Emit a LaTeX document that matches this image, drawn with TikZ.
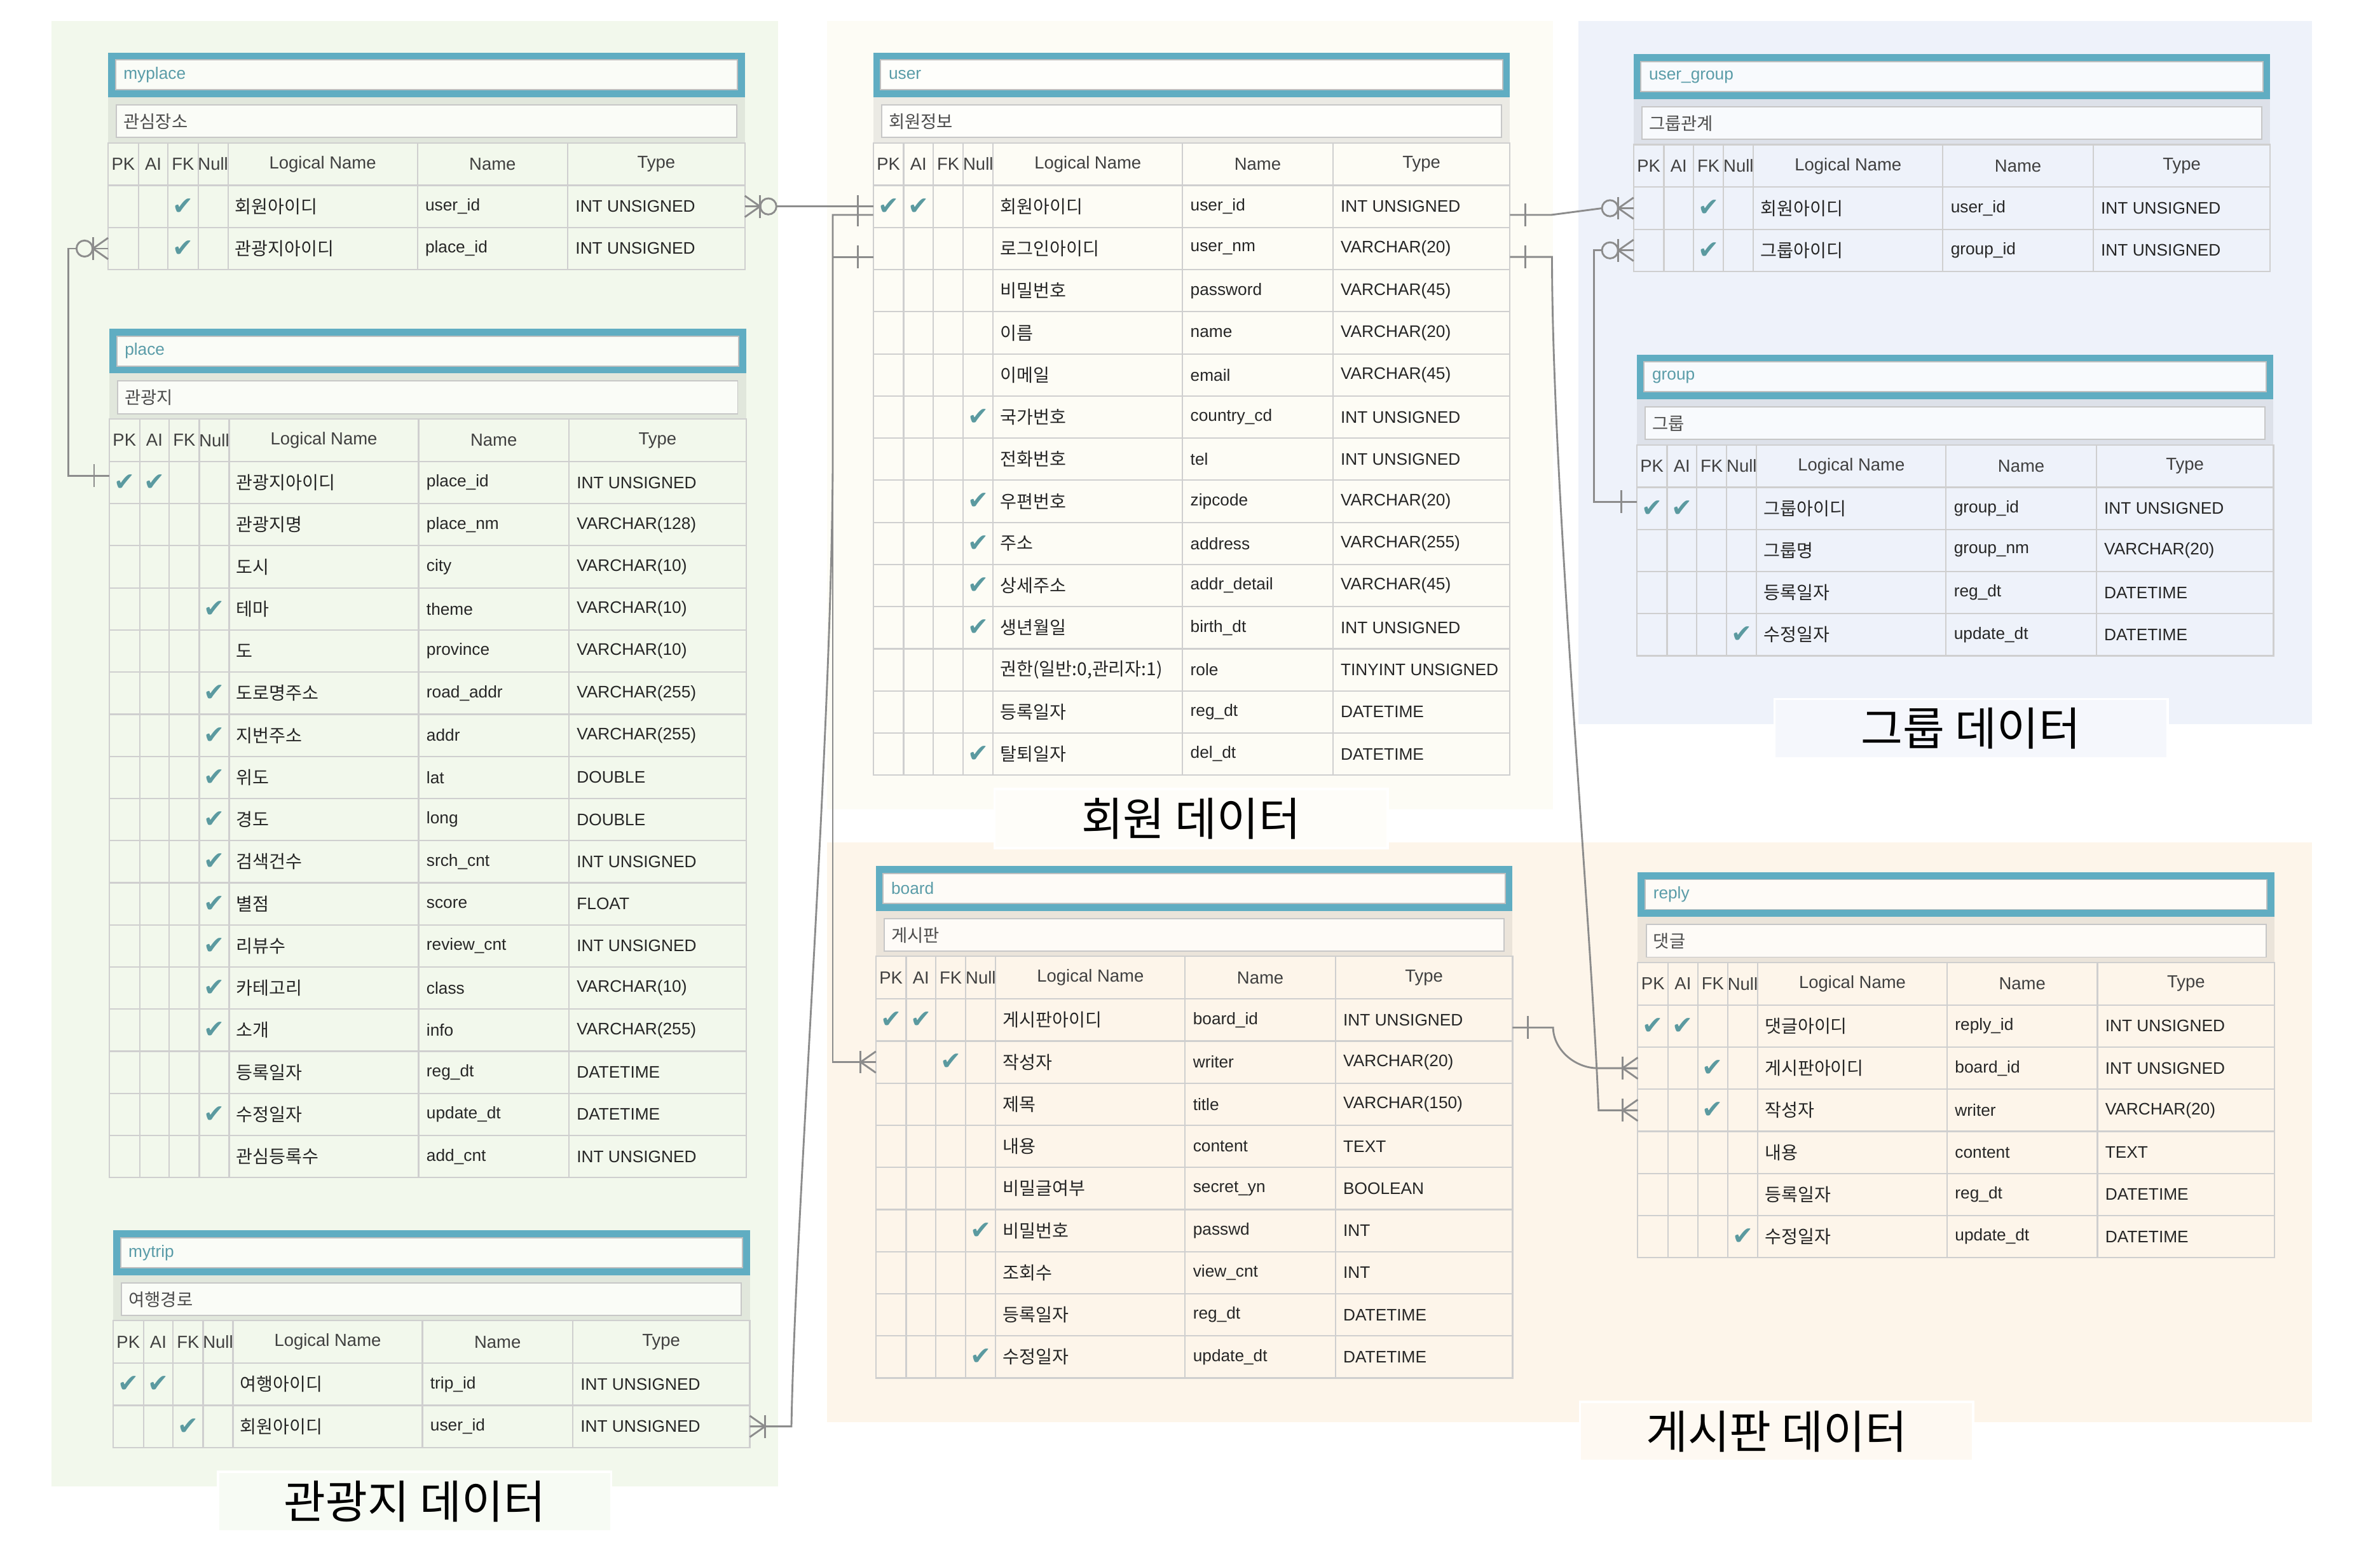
\documentclass[tikz,border=0pt]{standalone}
\usepackage{fontspec}
\setmainfont{Liberation Sans}
\newfontfamily\krfont{Noto Sans CJK KR}
\newfontfamily\symfont{DejaVu Sans}
\usetikzlibrary{calc}

\definecolor{bgGreen}{HTML}{F2F8EC}
\definecolor{bgCream}{HTML}{FDFCF5}
\definecolor{bgBlue}{HTML}{EEF2FA}
\definecolor{bgPeach}{HTML}{FDF5EA}
\definecolor{tealframe}{HTML}{60ADC2}
\definecolor{tealtext}{HTML}{5A9CA8}
\definecolor{checkc}{HTML}{5B9AA0}
\definecolor{gridc}{HTML}{CFCFCF}
\definecolor{connc}{HTML}{8C8C8C}

\tikzset{
 titletext/.style={anchor=west, inner sep=0pt, text=tealtext, font=\fontsize{11}{12}\selectfont},
 commtext/.style={anchor=west, inner sep=0pt, text=black!70, font=\krfont\fontsize{11.5}{12}\selectfont},
 hdrtext/.style={inner sep=0pt, text=black!75, font=\fontsize{11.5}{12}\selectfont},
 celltext/.style={anchor=west, inner sep=0pt, text=black!85, font=\fontsize{11}{12}\selectfont},
 krcell/.style={anchor=west, inner sep=0pt, text=black!85, font=\krfont\fontsize{11.8}{12}\selectfont},
 chk/.style={inner sep=0pt, text=checkc, font=\symfont\fontsize{16.5}{16.5}\selectfont},
 gridline/.style={draw=gridc, line width=0.9},
 conn/.style={draw=connc, line width=1.2},
 regionlabel/.style={inner sep=0pt, draw=white, line width=1.5, minimum width=259, minimum height=39,
   font=\krfont\fontsize{30}{31}\selectfont, text=black},
}

\newcommand\roletxt{권한(일반:0,관리자:1)}

% #1 name, #2 x0, #3 top, #4 title, #5 comment, #6 rows, #7 bg colour, #8 number of rows
\newcommand\erdtable[8]{%
\begin{scope}[shift={(#2,#3)}]
 \draw[tealframe, line width=4.5, fill=#7!40!white] (2.25,2.25) rectangle (417.25,27.25);
 \draw[black!25, line width=0.8] (4.9,4.9) rectangle (414.6,24.6);
 \node[titletext] (#1-title) at (10,14.75) {#4};
 \fill[#7!93!black] (0,29.5) rectangle (419.5,59.5);
 \draw[black!22, line width=0.8, fill=#7!40!white] (5.5,34.5) rectangle (414,56);
 \node[commtext] (#1-comment) at (10,45.5) {#5};
 \node[hdrtext] (#1-hpk) at (10,73.5) {PK};
 \node[hdrtext] (#1-hai) at (29.75,73.5) {AI};
 \node[hdrtext] (#1-hfk) at (49.4,73.5) {FK};
 \node[hdrtext] (#1-hnl) at (69.15,73.5) {Null};
 \node[hdrtext] (#1-hlg) at (141.4,73.5) {Logical Name};
 \node[hdrtext] (#1-hnm) at (253.3,73.5) {Name};
 \node[hdrtext] (#1-hty) at (361.15,73.5) {Type};
 \foreach \pk/\ai/\fk/\nl/\lg/\nm/\ty [count=\i] in {#6}{%
   \pgfmathsetmacro\yc{87.5+(\i-1)*27.75+13.875}
   \node[krcell] (#1-l\i) at (83.5,\yc) {\lg};
   \node[celltext] (#1-n\i) at (208.8,\yc) {\nm};
   \node[celltext] (#1-t\i) at (307.8,\yc) {\ty};
   \coordinate (#1-\i-W) at (0,\yc);
   \coordinate (#1-\i-E) at (419.5,\yc);
   \ifnum\pk=1 \node[chk] (#1-pk\i) at (10,\yc) {✔};\fi
   \ifnum\ai=1 \node[chk] (#1-ai\i) at (29.75,\yc) {✔};\fi
   \ifnum\fk=1 \node[chk] (#1-fk\i) at (49.4,\yc) {✔};\fi
   \ifnum\nl=1 \node[chk] (#1-nl\i) at (69.15,\yc) {✔};\fi
 }
 \pgfmathsetmacro\yb{87.5+#8*27.75}
 \draw[gridline] (0,59.5) rectangle (419.5,\yb);
 \foreach \cx in {20,39.5,59.3,79,203.8,302.8} \draw[gridline] (\cx,59.5) -- (\cx,\yb);
 \foreach \k in {1,...,#8} \draw[gridline] (0,{87.5+(\k-1)*27.75}) -- (419.5,{87.5+(\k-1)*27.75});
\end{scope}}

\newcommand\mkone[2]{\draw[conn] ($(#1)+(#2*10,-7.5)$) -- ($(#1)+(#2*10,7.5)$);}
\newcommand\mkmany[2]{%
 \draw[conn] ($(#1)+(0,-7)$) -- ($(#1)+(#2*10,0)$) -- ($(#1)+(0,7)$);
 \draw[conn] (#1) -- ($(#1)+(#2*10,0)$);
 \mkone{#1}{#2}}
\newcommand\mkzero[2]{%
 \mkmany{#1}{#2}
 \draw[conn] ($(#1)+(#2*15.5,0)$) circle[radius=5.3];}

\begin{document}
\begin{tikzpicture}[x=1pt,y=-1pt]
\useasboundingbox (0,0) rectangle (1568,1021);
\fill[white] (0,0) rectangle (1568,1021);

% regions
\fill[bgGreen] (34,14) rectangle (512.6,979);
\fill[bgCream] (545,14) rectangle (1023,533);
\fill[bgBlue] (1040,14) rectangle (1523,477);
\fill[bgPeach] (545,555) rectangle (1523,937);

% tables
\erdtable{myplace}{71.2}{34.6}{myplace}{관심장소}{%
0/0/1/0/회원아이디/user\_id/INT UNSIGNED,%
0/0/1/0/관광지아이디/place\_id/INT UNSIGNED}{bgGreen}{2}

\erdtable{place}{72}{216.5}{place}{관광지}{%
1/1/0/0/관광지아이디/place\_id/INT UNSIGNED,%
0/0/0/0/관광지명/place\_nm/VARCHAR(128),%
0/0/0/0/도시/city/VARCHAR(10),%
0/0/0/1/테마/theme/VARCHAR(10),%
0/0/0/0/도/province/VARCHAR(10),%
0/0/0/1/도로명주소/road\_addr/VARCHAR(255),%
0/0/0/1/지번주소/addr/VARCHAR(255),%
0/0/0/1/위도/lat/DOUBLE,%
0/0/0/1/경도/long/DOUBLE,%
0/0/0/1/검색건수/srch\_cnt/INT UNSIGNED,%
0/0/0/1/별점/score/FLOAT,%
0/0/0/1/리뷰수/review\_cnt/INT UNSIGNED,%
0/0/0/1/카테고리/class/VARCHAR(10),%
0/0/0/1/소개/info/VARCHAR(255),%
0/0/0/0/등록일자/reg\_dt/DATETIME,%
0/0/0/1/수정일자/update\_dt/DATETIME,%
0/0/0/0/관심등록수/add\_cnt/INT UNSIGNED}{bgGreen}{17}

\erdtable{mytrip}{74.5}{810.5}{mytrip}{여행경로}{%
1/1/0/0/여행아이디/trip\_id/INT UNSIGNED,%
0/0/1/0/회원아이디/user\_id/INT UNSIGNED}{bgGreen}{2}

\erdtable{user}{575.3}{34.6}{user}{회원정보}{%
1/1/0/0/회원아이디/user\_id/INT UNSIGNED,%
0/0/0/0/로그인아이디/user\_nm/VARCHAR(20),%
0/0/0/0/비밀번호/password/VARCHAR(45),%
0/0/0/0/이름/name/VARCHAR(20),%
0/0/0/0/이메일/email/VARCHAR(45),%
0/0/0/1/국가번호/country\_cd/INT UNSIGNED,%
0/0/0/0/전화번호/tel/INT UNSIGNED,%
0/0/0/1/우편번호/zipcode/VARCHAR(20),%
0/0/0/1/주소/address/VARCHAR(255),%
0/0/0/1/상세주소/addr\_detail/VARCHAR(45),%
0/0/0/1/생년월일/birth\_dt/INT UNSIGNED,%
0/0/0/0/\roletxt/role/TINYINT UNSIGNED,%
0/0/0/0/등록일자/reg\_dt/DATETIME,%
0/0/0/1/탈퇴일자/del\_dt/DATETIME}{bgCream}{14}

\erdtable{ug}{1076.2}{35.8}{user\_group}{그룹관계}{%
0/0/1/0/회원아이디/user\_id/INT UNSIGNED,%
0/0/1/0/그룹아이디/group\_id/INT UNSIGNED}{bgBlue}{2}

\erdtable{group}{1078.3}{233.5}{group}{그룹}{%
1/1/0/0/그룹아이디/group\_id/INT UNSIGNED,%
0/0/0/0/그룹명/group\_nm/VARCHAR(20),%
0/0/0/0/등록일자/reg\_dt/DATETIME,%
0/0/0/1/수정일자/update\_dt/DATETIME}{bgBlue}{4}

\erdtable{board}{577}{570.5}{board}{게시판}{%
1/1/0/0/게시판아이디/board\_id/INT UNSIGNED,%
0/0/1/0/작성자/writer/VARCHAR(20),%
0/0/0/0/제목/title/VARCHAR(150),%
0/0/0/0/내용/content/TEXT,%
0/0/0/0/비밀글여부/secret\_yn/BOOLEAN,%
0/0/0/1/비밀번호/passwd/INT,%
0/0/0/0/조회수/view\_cnt/INT,%
0/0/0/0/등록일자/reg\_dt/DATETIME,%
0/0/0/1/수정일자/update\_dt/DATETIME}{bgPeach}{9}

\erdtable{reply}{1079}{574.5}{reply}{댓글}{%
1/1/0/0/댓글아이디/reply\_id/INT UNSIGNED,%
0/0/1/0/게시판아이디/board\_id/INT UNSIGNED,%
0/0/1/0/작성자/writer/VARCHAR(20),%
0/0/0/0/내용/content/TEXT,%
0/0/0/0/등록일자/reg\_dt/DATETIME,%
0/0/0/1/수정일자/update\_dt/DATETIME}{bgPeach}{6}

% region labels
\node[regionlabel, fill=bgGreen!60!white] (lab-tour) at (273.25,989.1) {관광지 데이터};
\node[regionlabel, fill=bgCream!60!white] (lab-user) at (784.75,539.2) {회원 데이터};
\node[regionlabel, fill=bgBlue!60!white] (lab-group) at (1298.5,480) {그룹 데이터};
\node[regionlabel, fill=bgPeach!60!white] (lab-board) at (1170.5,943) {게시판 데이터};

% connectors
% A: myplace.user_id -> user.user_id
\draw[conn] ($(myplace-1-E)+(20.8,0)$) -- (user-1-W);
\mkzero{myplace-1-E}{1}
\mkone{user-1-W}{-1}

% B: myplace.place_id -> place.place_id
\coordinate (bEnd) at ($(place-1-W)+(0,-4.5)$);
\draw[conn] ($(myplace-2-W)+(-20.8,0)$) -| ($(bEnd)+(-27,0)$) -- (bEnd);
\mkzero{myplace-2-W}{-1}
\mkone{bEnd}{-1}

% C: user.user_id -> user_group.user_id
\coordinate (cS) at ($(user-1-E)+(0,5.6)$);
\draw[conn] (cS) -- ++(27,0) -- ($(ug-1-W)+(-20.8,0)$);
\mkone{cS}{1}
\mkzero{ug-1-W}{-1}

% D: group.group_id -> user_group.group_id
\coordinate (dS) at ($(group-1-W)+(0,-4.3)$);
\draw[conn] (dS) -- ++(-28.3,0) |- ($(ug-2-W)+(-20.8,0)$);
\mkone{dS}{-1}
\mkzero{ug-2-W}{-1}

% E: user -> reply.writer
\coordinate (eS) at ($(user-2-E)+(0,5.5)$);
\draw[conn] (eS) -- ++(27.7,0) coordinate (e1)
  .. controls ($(e1)+(0,150)$) and ($(reply-3-W)+(-31,-130)$) .. ($(reply-3-W)+(-25.8,0)$) -- (reply-3-W);
\mkone{eS}{1}
\mkmany{reply-3-W}{-1}

% F: board.board_id -> reply.board_id
\coordinate (fS) at ($(board-1-E)+(0,5)$);
\draw[conn] (fS) -- ++(26.7,0) coordinate (f1)
  .. controls ($(f1)+(0.3,15)$) and ($(reply-2-W)+(-41,0)$) .. ($(reply-2-W)+(-26.5,0)$) -- (reply-2-W);
\mkone{fS}{1}
\mkmany{reply-2-W}{-1}

% G: user -> board.writer
\coordinate (gS) at ($(user-2-W)+(0,5.5)$);
\draw[conn] (gS) -| ($(board-2-W)+(-28.4,0)$) -- (board-2-W);
\mkone{gS}{-1}
\mkmany{board-2-W}{-1}

% H: user -> mytrip.user_id
\coordinate (hS) at ($(user-1-W)+(0,5.6)$);
\draw[conn] (hS) -- ++(-26.7,0) -- ++(0,170) coordinate (h2)
  .. controls ($(h2)+(-1.5,190)$) and ($(mytrip-2-E)+(30,-140)$) .. ($(mytrip-2-E)+(27.4,0)$) -- (mytrip-2-E);
\mkone{hS}{-1}
\mkmany{mytrip-2-E}{1}
\end{tikzpicture}
\end{document}
